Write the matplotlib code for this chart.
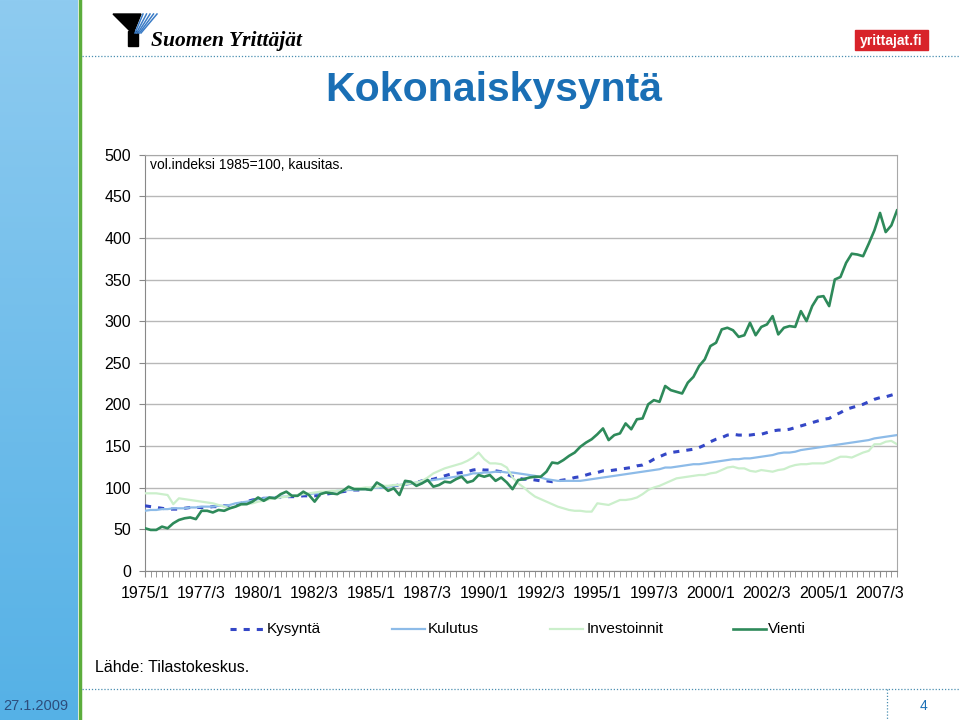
import matplotlib
matplotlib.use("Agg")
import matplotlib.pyplot as plt
from matplotlib.lines import Line2D
from matplotlib.patches import Rectangle, Polygon
from matplotlib.colors import LinearSegmentedColormap
import numpy as np

plt.rcParams["font.family"] = ["Liberation Sans", "DejaVu Sans"]

# ── data: quarterly volume index 1985=100, 1975/1 .. 2008/2 ────────────
quarters = [f"{1975 + k // 4}/{k % 4 + 1}" for k in range(134)]

kysynta = [
    78, 77, 76, 75, 74, 74, 74, 75, 76, 76,
    76, 76, 77, 77, 78, 78, 79, 81, 83, 85,
    86, 87, 87, 88, 88, 89, 89, 89, 90, 90,
    90, 91, 92, 93, 94, 95, 96, 97, 97, 98,
    99, 100, 101, 101, 102, 103, 104, 105, 106, 108,
    109, 110, 112, 114, 116, 117, 118, 119, 121, 122,
    121, 121, 120, 119, 116, 113, 111, 110, 110, 109,
    108, 108, 107, 108, 109, 110, 112, 113, 115, 117,
    118, 120, 120, 121, 122, 123, 124, 126, 127, 130,
    134, 137, 140, 142, 143, 144, 145, 146, 148, 151,
    155, 158, 160, 163, 164, 163, 163, 163, 164, 164,
    166, 168, 169, 169, 170, 172, 174, 176, 178, 180,
    182, 183, 187, 190, 194, 196, 198, 200, 203, 206,
    208, 209, 211, 213,
]
kulutus = [
    72, 73, 73, 74, 74, 75, 75, 75, 76, 76,
    77, 77, 77, 78, 78, 79, 81, 82, 83, 84,
    86, 87, 88, 88, 89, 89, 90, 91, 92, 92,
    93, 93, 94, 95, 96, 96, 97, 97, 98, 98,
    99, 100, 100, 101, 102, 103, 104, 105, 106, 107,
    108, 109, 110, 111, 112, 113, 114, 115, 117, 117,
    118, 118, 119, 119, 118, 118, 117, 116, 115, 114,
    112, 110, 109, 108, 108, 108, 108, 108, 109, 110,
    111, 112, 113, 114, 115, 116, 117, 118, 119, 120,
    121, 122, 124, 124, 125, 126, 127, 128, 128, 129,
    130, 131, 132, 133, 134, 134, 135, 135, 136, 137,
    138, 139, 141, 142, 142, 143, 145, 146, 147, 148,
    149, 150, 151, 152, 153, 154, 155, 156, 157, 159,
    160, 161, 162, 163,
]
investoinnit = [
    93, 93, 93, 92, 91, 80, 87, 86, 85, 84,
    83, 82, 81, 79, 77, 75, 77, 79, 80, 81,
    83, 84, 86, 87, 88, 89, 90, 91, 92, 93,
    94, 95, 95, 96, 96, 97, 98, 99, 99, 100,
    100, 101, 102, 102, 103, 103, 104, 105, 106, 108,
    112, 117, 120, 123, 125, 127, 129, 132, 136, 142,
    134, 129, 129, 128, 124, 112, 105, 100, 94, 89,
    86, 83, 80, 77, 75, 73, 72, 72, 71, 71,
    81, 80, 79, 82, 85, 85, 86, 88, 92, 97,
    100, 102, 105, 108, 111, 112, 113, 114, 115, 115,
    117, 118, 121, 124, 125, 123, 123, 120, 119, 121,
    120, 119, 121, 122, 125, 127, 128, 128, 129, 129,
    129, 131, 134, 137, 137, 136, 139, 142, 144, 152,
    152, 155, 156, 152,
]
vienti = [
    51, 49, 49, 53, 51, 57, 61, 63, 64, 62,
    72, 72, 70, 73, 72, 75, 77, 80, 80, 83,
    88, 84, 88, 87, 92, 95, 90, 90, 95, 91,
    83, 92, 94, 93, 92, 96, 101, 98, 98, 98,
    97, 106, 102, 96, 99, 91, 108, 107, 102, 105,
    109, 101, 103, 107, 106, 110, 113, 106, 108, 115,
    113, 115, 108, 112, 106, 98, 109, 110, 112, 113,
    113, 119, 130, 129, 133, 138, 142, 149, 154, 158,
    164, 171, 157, 163, 165, 177, 170, 182, 183, 200,
    205, 203, 222, 217, 215, 213, 226, 233, 246, 254,
    270, 274, 290, 292, 289, 281, 283, 298, 283, 293,
    296, 306, 284, 292, 294, 293, 312, 300, 318, 329,
    330, 318, 350, 353, 370, 381, 380, 378, 393, 409,
    430, 407, 415, 433,
]

series_names = ["Kysyntä", "Kulutus", "Investoinnit", "Vienti"]
series_colors = ["#3447c6", "#8dbbe8", "#cbefcb", "#2e8a5a"]
series_lw = [2.2, 1.6, 1.6, 1.9]

W, H = 960, 720
def fx(x): return x / W
def fy(y): return 1 - y / H

fig = plt.figure(figsize=(9.6, 7.2), dpi=100)
fig.patch.set_facecolor("white")

# ── slide decoration ───────────────────────────────────────────────────
bar = fig.add_axes([0, 0, fx(78), 1])
grad = np.linspace(0, 1, 256).reshape(-1, 1)
bar.imshow(grad, aspect="auto", extent=[0, 1, 0, 1], origin="upper",
           cmap=LinearSegmentedColormap.from_list("bar", ["#8ecbf0", "#55b1e6"]))
bar.axis("off")
fig.add_artist(Line2D([fx(80), fx(80)], [0, 1], color="#5cad3c", lw=2.5,
                      transform=fig.transFigure))
dotted = dict(color="#4a8fb0", lw=0.9, linestyle=(0, (1, 1.5)), transform=fig.transFigure)
fig.add_artist(Line2D([fx(82), 1], [fy(56), fy(56)], **dotted))
fig.add_artist(Line2D([fx(82), 1], [fy(689), fy(689)], **dotted))
fig.add_artist(Line2D([fx(887), fx(887)], [fy(689), 0], **dotted))

# logo
def px(pts): return [(fx(a), fy(b)) for a, b in pts]
fig.add_artist(Polygon(px([(113, 14), (141, 14), (133, 34)]), closed=True,
                       color="black", transform=fig.transFigure))
fig.add_artist(Rectangle((fx(128), fy(46)), fx(10), 15 / H, color="black",
                         transform=fig.transFigure))
for k in range(5):
    fig.add_artist(Line2D([fx(143 + 3.5 * k), fx(135 + 1.5 * k)], [fy(14), fy(33)],
                          color="#3b7cc6", lw=1.1, transform=fig.transFigure))
fig.text(fx(151), fy(46), "Suomen Yrittäjät", family="Liberation Serif",
         style="italic", weight="bold", fontsize=15.5, va="baseline")
fig.add_artist(Rectangle((fx(855), fy(50)), fx(73), 20 / H, color="#d8232a",
                         transform=fig.transFigure))
fig.text(fx(891.5), fy(40.5), "yrittajat.fi", color="white", weight="bold",
         fontsize=10, ha="center", va="center")

fig.text(fx(494), fy(101), "Kokonaiskysyntä", ha="center", va="baseline",
         fontsize=29.5, fontweight="bold", color="#1a6fb5")

# ── chart ──────────────────────────────────────────────────────────────
ax = fig.add_axes([fx(145), fy(570.7), fx(897) - fx(145), (570.7 - 154.7) / H])
x = np.arange(len(quarters))
data = [kysynta, kulutus, investoinnit, vienti]
for name, vals, col, lw in zip(series_names, data, series_colors, series_lw):
    if name == "Kysyntä":
        ax.plot(x, vals, color=col, lw=lw, dashes=(2, 2.3), zorder=3)
    else:
        ax.plot(x, vals, color=col, lw=lw, zorder=3)

ax.set_xlim(0, 133)
ax.set_ylim(0, 500)
ax.set_yticks(range(0, 501, 50))
ax.yaxis.grid(True, color="#b8b8b8", lw=1)
ax.set_axisbelow(True)
ax.set_xticks(x[::10])
ax.set_xticklabels(quarters[::10])
ax.set_xticks(x, minor=True)
for s in ax.spines.values():
    s.set_color("#a8a8a8")
ax.spines["left"].set_color("#888888")
ax.spines["bottom"].set_color("#888888")
ax.tick_params(axis="x", which="both", length=4, color="#888888", labelsize=11.5, pad=7)
ax.tick_params(axis="y", length=4, color="#888888", labelsize=11.5, pad=6)

fig.text(fx(150), fy(158), "vol.indeksi 1985=100, kausitas.", fontsize=10, va="top")

# legend (manual)
leg_pos = [(230, 267), (392, 428), (550, 587), (733, 768)]
for (lx, tx), name, col, lw in zip(leg_pos, series_names, series_colors, series_lw):
    kw = dict(dashes=(2, 2.3)) if name == "Kysyntä" else {}
    fig.add_artist(Line2D([fx(lx), fx(lx + 33)], [fy(629), fy(629)], color=col,
                          lw=lw, transform=fig.transFigure, **kw))
    fig.text(fx(tx), fy(629), name, fontsize=11, va="center")

fig.text(fx(95), fy(668), "Lähde: Tilastokeskus.", fontsize=11.5, va="center")
fig.text(fx(3), fy(706), "27.1.2009", fontsize=10.5, va="center", color="#2d4d7c")
fig.text(fx(924), fy(706), "4", fontsize=10, va="center", ha="center", color="#1a6fb5")

fig.savefig("out.png", dpi=100)
